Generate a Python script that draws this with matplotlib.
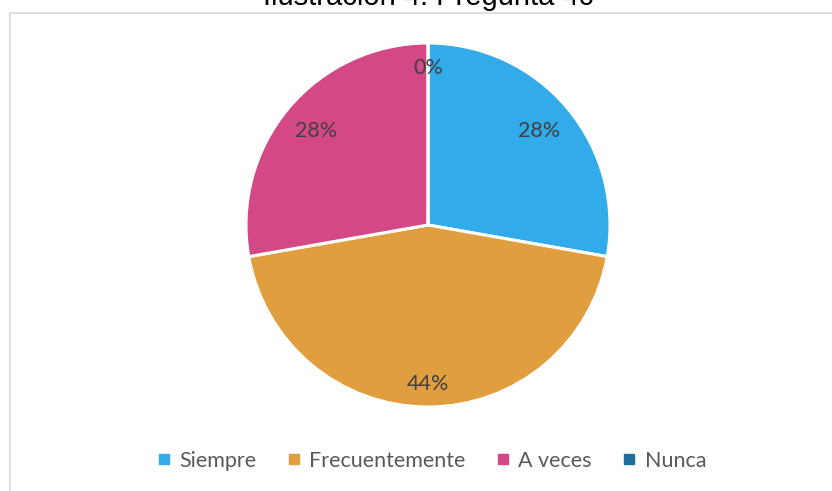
import matplotlib
matplotlib.use("Agg")
import matplotlib.pyplot as plt
from matplotlib.patches import Rectangle
from matplotlib.lines import Line2D

# data
categorias = ["Siempre", "Frecuentemente", "A veces", "Nunca"]
respuestas = [5, 8, 5, 0]
colores = ["#31ABEA", "#E19E3E", "#D54886", "#1B6E9F"]
titulo = "Ilustración 4. Pregunta 4c"

W, H = 832, 491
fig = plt.figure(figsize=(W / 100, H / 100), dpi=100)

# pie centred at (428, 225) px, radius 182 px
cx, cy, r = 428, 225, 182
ax = fig.add_axes([(cx - r) / W, (H - cy - r) / H, 2 * r / W, 2 * r / H])

wedges, texts, autotexts = ax.pie(
    respuestas, colors=colores, startangle=90, counterclock=False,
    autopct=lambda p: "{0:.0f}%".format(p), pctdistance=0.8,
    wedgeprops=dict(edgecolor="white", linewidth=2.2),
    textprops=dict(color="#404040", fontsize=15.5, family=["Lato", "DejaVu Sans"]))
ax.set_xlim(-1, 1)
ax.set_ylim(-1, 1)
ax.set_aspect("equal")
ax.axis("off")

# push some labels out a bit like Excel's best fit
escala = [1.0, 1.09, 1.0, 1.08]
for t, s in zip(autotexts, escala):
    x, y = t.get_position()
    t.set_position((x * s, y * s))

# chart frame (only top and left visible)
fig.patches.append(Rectangle((9.5 / W, -0.1), 2, 1 - 12.5 / H + 0.1,
                             transform=fig.transFigure, fill=False,
                             edgecolor="#D9D9D9", linewidth=1.2))

# title sits mostly above the picture, only its lower part shows
fig.text(cx / W, 1 - 5 / H, titulo, ha="center", va="baseline",
         fontsize=21, family="Liberation Sans", color="#000000")

handles = [Line2D([], [], marker="s", linestyle="none", markersize=6.5,
                  markerfacecolor=c, markeredgecolor=c) for c in colores]
leg = fig.legend(handles, categorias, loc="center", ncol=4,
                 bbox_to_anchor=(432 / W, 1 - 461 / H), frameon=False,
                 handlelength=0.55, handletextpad=0.45, columnspacing=1.45,
                 prop=dict(family="Lato", size=15.5))
for t in leg.get_texts():
    t.set_color("#595959")

fig.savefig("out.png", dpi=100, facecolor="white")
